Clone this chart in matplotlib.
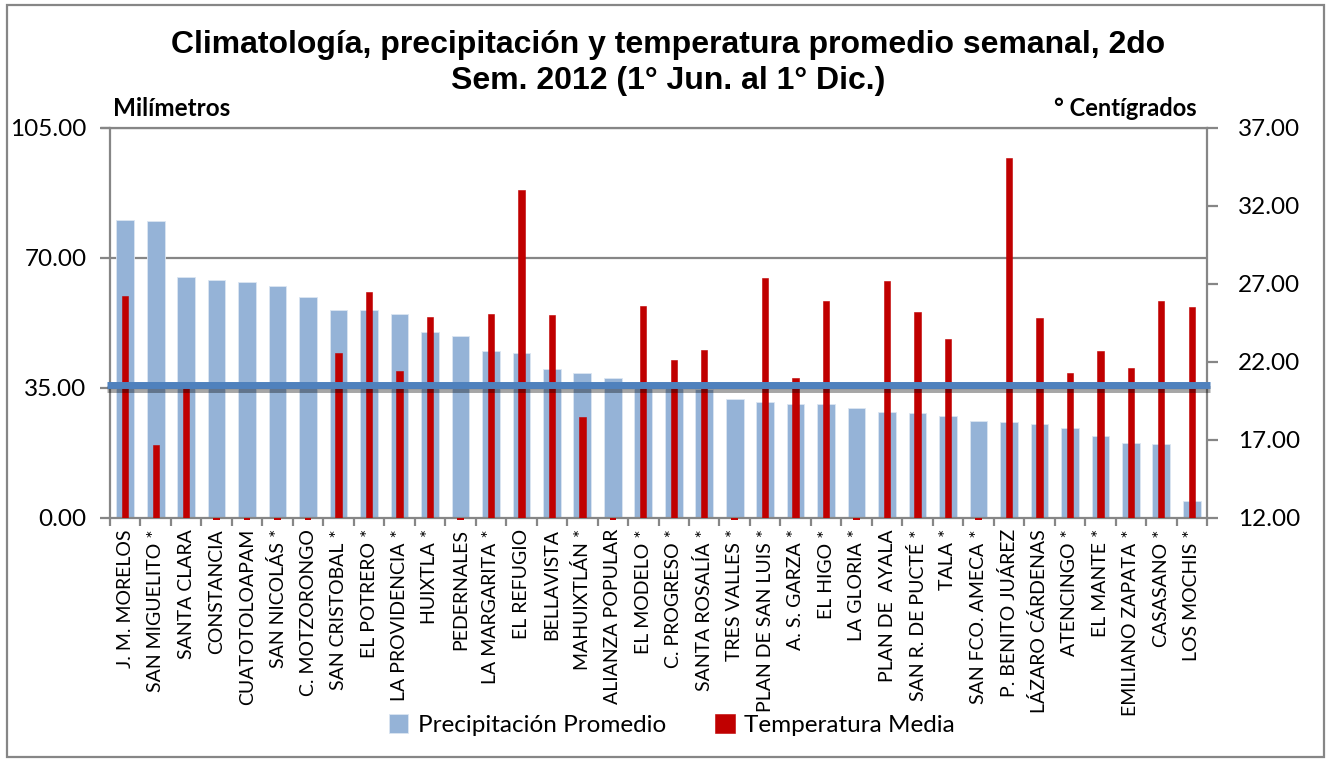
import numpy as np
import matplotlib
matplotlib.use("Agg")
import matplotlib.pyplot as plt
import matplotlib.patheffects as pe
from matplotlib.patches import Rectangle

# ---------------- data ----------------
stations = ["J. M. MORELOS", "SAN MIGUELITO *", "SANTA CLARA", "CONSTANCIA",
            "CUATOTOLOAPAM", "SAN NICOLÁS *", "C. MOTZORONGO", "SAN CRISTOBAL *",
            "EL POTRERO *", "LA PROVIDENCIA *", "HUIXTLA *", "PEDERNALES",
            "LA MARGARITA *", "EL REFUGIO", "BELLAVISTA", "MAHUIXTLÁN *",
            "ALIANZA POPULAR", "EL MODELO *", "C. PROGRESO *", "SANTA ROSALÍA *",
            "TRES VALLES *", "PLAN DE SAN LUIS *", "A. S. GARZA *", "EL HIGO *",
            "LA GLORIA *", "PLAN DE  AYALA", "SAN R. DE PUCTÉ *", "TALA *",
            "SAN FCO. AMECA *", "P. BENITO JUÁREZ", "LÁZARO CÁRDENAS", "ATENCINGO *",
            "EL MANTE *", "EMILIANO ZAPATA *", "CASASANO *", "LOS MOCHIS *"]

precip_mm = [80.2, 80.0, 64.9, 64.0, 63.5, 62.5, 59.6, 56.1,
             55.9, 54.8, 50.2, 48.9, 45.0, 44.3, 40.0, 39.1,
             37.7, 36.2, 35.6, 34.7, 32.0, 31.2, 30.7, 30.6,
             29.7, 28.5, 28.2, 27.5, 26.1, 25.8, 25.4, 24.1,
             22.1, 20.2, 19.9, 4.6]

temp_c = [26.2, 16.7, 20.4, 0.0, 0.0, 0.0, 0.0, 22.6,
          26.5, 21.4, 24.9, 0.0, 25.1, 33.0, 25.0, 18.5,
          0.0, 25.6, 22.1, 22.8, 0.0, 27.4, 21.0, 25.9,
          0.0, 27.2, 25.2, 23.5, 0.0, 35.1, 24.8, 21.3,
          22.7, 21.6, 25.9, 25.5]

climatologia_mm = 35.8

left_ticks = [0, 35, 70, 105]
right_ticks = [12, 17, 22, 27, 32, 37]

# ---------------- figure ----------------
W, H = 1329, 761
fig = plt.figure(figsize=(W / 100, H / 100), dpi=100)
fig.patch.set_facecolor("white")

def fx(px):
    return px / W

def fy(py):
    return 1 - py / H

x0, x1, y0, y1 = 110, 1207, 128, 518
ax = fig.add_axes([fx(x0), fy(y1), fx(x1) - fx(x0), fy(y0) - fy(y1)])
ax2 = ax.twinx()

GRAY = "#868686"
BLUE = "#95B3D7"
RED = "#C00000"
LINE = "#4F81BD"
FONT = "Lato"

n = len(stations)
x = np.arange(n)

ax.bar(x, precip_mm, width=0.58, color=BLUE, edgecolor="#DCE6F2", linewidth=0.6,
       label="Precipitación Promedio", zorder=2)
ax.set_ylim(0, 105)
ax.set_xlim(-0.5, n - 0.5)

t = np.array(temp_c)
heights = np.clip(t, 12, None) - 12
ax2.bar(x, heights, bottom=12, width=0.21, color=RED, edgecolor=RED, linewidth=0.4,
        label="Temperatura Media", zorder=3)
# zero values shown as a small mark at the axis
zero = t <= 12
ax2.bar(x[zero], [0.12] * int(zero.sum()), bottom=11.9, width=0.21, color=RED,
        linewidth=0, clip_on=False, zorder=3)
ax2.set_ylim(12, 37)

# climatology line on top of everything
ax2.plot([-0.6, n - 0.4], [climatologia_mm, climatologia_mm], transform=ax.transData,
         color=LINE, linewidth=5, solid_capstyle="butt", zorder=5, clip_on=False,
         path_effects=[pe.SimpleLineShadow(offset=(0, -2.5), shadow_color="black", alpha=0.35),
                       pe.Normal()])

# grid
for v in left_ticks[1:]:
    ax.axhline(v, color=GRAY, linewidth=1.6, zorder=1)
ax.plot([-0.75, n - 0.5], [105, 105], color=GRAY, linewidth=1.6, clip_on=False, zorder=1)

# spines
for a in (ax, ax2):
    a.spines["top"].set_visible(False)
    for s in ("left", "right", "bottom"):
        a.spines[s].set_color(GRAY)
        a.spines[s].set_linewidth(1.6)
ax.spines["right"].set_visible(False)
ax2.spines["left"].set_visible(False)
ax2.spines["bottom"].set_visible(False)

# ticks
ax.set_yticks(left_ticks)
ax.set_yticklabels([f"{v:.2f}" for v in left_ticks], fontsize=17.5, fontfamily=FONT)
ax.tick_params(axis="y", direction="out", length=7, width=1.6, color=GRAY, pad=10)
ax2.set_yticks(right_ticks)
ax2.set_yticklabels([f"{v:.2f}" for v in right_ticks], fontsize=17.5, fontfamily=FONT)
ax2.tick_params(axis="y", direction="out", length=8, width=1.6, color=GRAY, pad=14)

ax.set_xticks(x)
ax.set_xticklabels(stations, rotation=90, fontsize=14, fontfamily=FONT)
ax.tick_params(axis="x", which="major", length=0, pad=8)
ax.set_xticks(np.arange(-0.5, n, 1.0), minor=True)
ax.tick_params(axis="x", which="minor", direction="out", length=6, width=1.6, color=GRAY)

# axis titles
fig.text(fx(113), fy(108), "Milímetros", fontsize=17.5, fontweight="bold",
         fontfamily=FONT, ha="left", va="center")
fig.text(fx(1197), fy(108), "° Centígrados", fontsize=17, fontweight="bold",
         fontfamily=FONT, ha="right", va="center")

# title
fig.text(fx(668), fy(45), "Climatología, precipitación y temperatura promedio semanal, 2do",
         fontsize=23, fontweight="bold", fontfamily="Liberation Sans",
         ha="center", va="center")
fig.text(fx(668), fy(81), "Sem. 2012 (1° Jun. al 1° Dic.)",
         fontsize=23, fontweight="bold", fontfamily="Liberation Sans",
         ha="center", va="center")

# legend
h1, l1 = ax.get_legend_handles_labels()
h2, l2 = ax2.get_legend_handles_labels()
leg = fig.legend(h1 + h2[:1], l1 + l2[:1], loc="center", bbox_to_anchor=(fx(672), fy(725)),
                 ncol=2, frameon=False, prop={"family": FONT, "size": 17.5},
                 handlelength=0.8, handleheight=0.8, handletextpad=0.4, columnspacing=2.0)

# outer border
fig.patches.append(Rectangle((fx(7), fy(757)), fx(1324) - fx(7), fy(5) - fy(757),
                             transform=fig.transFigure, fill=False,
                             edgecolor=GRAY, linewidth=1.6))

fig.savefig("out.png", dpi=100, facecolor="white")
